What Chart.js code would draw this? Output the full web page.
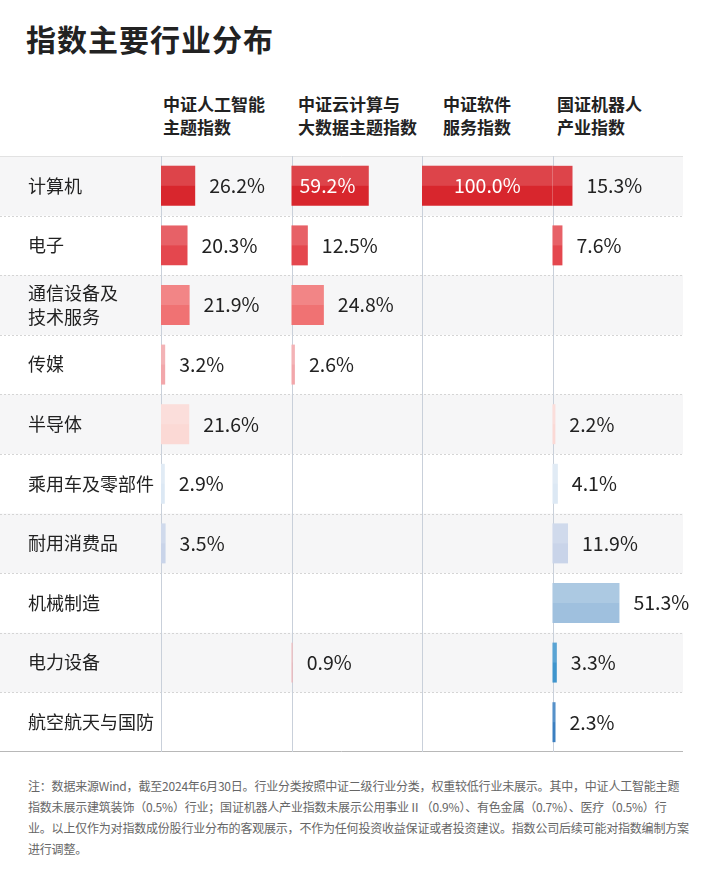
<!DOCTYPE html>
<html>
<head>
<meta charset="utf-8">
<script src="https://cdn.jsdelivr.net/npm/chart.js@4"></script>
<style>
  body { margin: 0; width: 709px; height: 874px; background: #fff; position: relative; overflow: hidden;
         font-family: "Noto Sans CJK SC", "Noto Sans", sans-serif; color: #222; }
  #title { position: absolute; left: 26px; top: 16px; font-size: 30px; font-weight: bold; letter-spacing: 1px; }
  .hd { position: absolute; top: 92px; font-size: 17px; font-weight: bold; line-height: 23px; }
  #wrap { position: absolute; left: 0; top: 155px; width: 709px; height: 600px; }
  #note { position: absolute; left: 28px; top: 775px; width: 662px; font-size: 12px; line-height: 21px; color: #666; letter-spacing: -0.2px; }
</style>
</head>
<body>
<div id="title">指数主要行业分布</div>
<div class="hd" style="left:163px">中证人工智能<br>主题指数</div>
<div class="hd" style="left:298px">中证云计算与<br>大数据主题指数</div>
<div class="hd" style="left:443px">中证软件<br>服务指数</div>
<div class="hd" style="left:557px">国证机器人<br>产业指数</div>
<div id="wrap"><canvas id="myChart"></canvas></div>
<div id="note">注：数据来源Wind，截至2024年6月30日。行业分类按照中证二级行业分类，权重较低行业未展示。其中，中证人工智能主题指数未展示建筑装饰（0.5%）行业；国证机器人产业指数未展示公用事业Ⅱ（0.9%）、有色金属（0.7%）、医疗（0.5%）行业。以上仅作为对指数成份股行业分布的客观展示，不作为任何投资收益保证或者投资建议。指数公司后续可能对指数编制方案进行调整。</div>
<script>
var industries = ["计算机", "电子", ["通信设备及", "技术服务"], "传媒", "半导体", "乘用车及零部件", "耐用消费品", "机械制造", "电力设备", "航空航天与国防"];
var indexNames = ["中证人工智能主题指数", "中证云计算与大数据主题指数", "中证软件服务指数", "国证机器人产业指数"];
var aiIndex = [26.2, 20.3, 21.9, 3.2, 21.6, 2.9, 3.5, null, null, null];
var cloudIndex = [59.2, 12.5, 24.8, 2.6, null, null, null, null, 0.9, null];
var softwareIndex = [100.0, null, null, null, null, null, null, null, null, null];
var robotIndex = [15.3, 7.6, null, null, 2.2, 4.1, 11.9, 51.3, 3.3, 2.3];
var allSeries = [aiIndex, cloudIndex, softwareIndex, robotIndex];

var rowColors = ["#d8262d", "#e4474e", "#f07273", "#f2a7ab", "#fbd9d5", "#dce8f4", "#c9d4e9", "#9fc0de", "#3f95cd", "#3b7fc0"];
function cellColor(col, row) {
  if (col == 1 && row == 8) return "#efb2b6";
  return rowColors[row];
}

var datasets = allSeries.map(function (vals, col) {
  return {
    label: indexNames[col],
    data: vals.map(function (v) { return v == null ? null : [col * 100, col * 100 + v]; }),
    backgroundColor: vals.map(function (v, row) { return cellColor(col, row); }),
    barPercentage: 0.67,
    categoryPercentage: 1
  };
});

var tablePlugin = {
  id: "table",
  beforeDraw: function (chart) {
    var ctx = chart.ctx, y = chart.scales.y, a = chart.chartArea;
    var step = y.getPixelForValue(1) - y.getPixelForValue(0);
    ctx.save();
    industries.forEach(function (l, i) {
      var top = y.getPixelForValue(i) - step / 2;
      if (i % 2 == 0) { ctx.fillStyle = "#f6f6f7"; ctx.fillRect(0, top, a.right, step); }
      if (i > 0) {
        ctx.strokeStyle = "#d5d5d5"; ctx.lineWidth = 1; ctx.setLineDash([2, 2]);
        ctx.beginPath(); ctx.moveTo(0, Math.round(top) + 0.5); ctx.lineTo(a.right, Math.round(top) + 0.5); ctx.stroke();
      }
    });
    ctx.setLineDash([]);
    ctx.strokeStyle = "#e2e2e2";
    ctx.beginPath(); ctx.moveTo(0, a.top + 0.5); ctx.lineTo(a.right, a.top + 0.5); ctx.stroke();
    ctx.strokeStyle = "#b8b8b8";
    ctx.beginPath(); ctx.moveTo(0, a.bottom - 0.5); ctx.lineTo(a.right, a.bottom - 0.5); ctx.stroke();
    ctx.strokeStyle = "#c9d0da";
    var x = chart.scales.x;
    [0, 100, 200, 300].forEach(function (v) {
      var px = Math.round(x.getPixelForValue(v)) + 0.5;
      ctx.beginPath(); ctx.moveTo(px, a.top); ctx.lineTo(px, a.bottom); ctx.stroke();
    });
    ctx.restore();
  },
  afterDatasetsDraw: function (chart) {
    var ctx = chart.ctx;
    ctx.save();
    chart.data.datasets.forEach(function (ds, col) {
      chart.getDatasetMeta(col).data.forEach(function (bar, row) {
        var v = allSeries[col][row];
        if (v == null) return;
        var left = Math.min(bar.x, bar.base), right = Math.max(bar.x, bar.base);
        var top = bar.y - bar.height / 2;
        ctx.fillStyle = "rgba(255,255,255,0.14)";
        ctx.fillRect(left, top, right - left, bar.height / 2);
        ctx.font = "19.5px 'Noto Sans CJK SC', sans-serif";
        ctx.textBaseline = "middle";
        var txt = v.toFixed(1) + "%";
        if (v >= 99) { ctx.fillStyle = "#fff"; ctx.textAlign = "center"; ctx.fillText(txt, (left + right) / 2, bar.y); }
        else if (v >= 55) { ctx.fillStyle = "#fff"; ctx.textAlign = "left"; ctx.fillText(txt, left + 8, bar.y); }
        else { ctx.fillStyle = "#222"; ctx.textAlign = "left"; ctx.fillText(txt, right + 14, bar.y); }
      });
    });
    ctx.restore();
  }
};

var ctx = document.getElementById("myChart").getContext("2d");
var chart = new Chart(ctx, {
  type: "bar",
  data: { labels: industries, datasets: datasets },
  plugins: [tablePlugin],
  options: {
    indexAxis: "y",
    responsive: true,
    maintainAspectRatio: false,
    animation: false,
    layout: { padding: { left: 28, right: 26, top: 1, bottom: 3 } },
    plugins: { legend: { display: false }, tooltip: { enabled: false } },
    datasets: { bar: { grouped: false, borderWidth: 0 } },
    scales: {
      x: { min: 0, max: 400, display: false },
      y: {
        grid: { display: false },
        border: { display: false },
        afterFit: function (s) { s.width = 133; s.paddingTop = 0; s.paddingBottom = 0; },
        ticks: { crossAlign: "far", padding: 10, color: "#222",
                 font: { size: 18, family: "'Noto Sans CJK SC', sans-serif", lineHeight: 1.3 } }
      }
    }
  }
});
</script>
</body>
</html>
